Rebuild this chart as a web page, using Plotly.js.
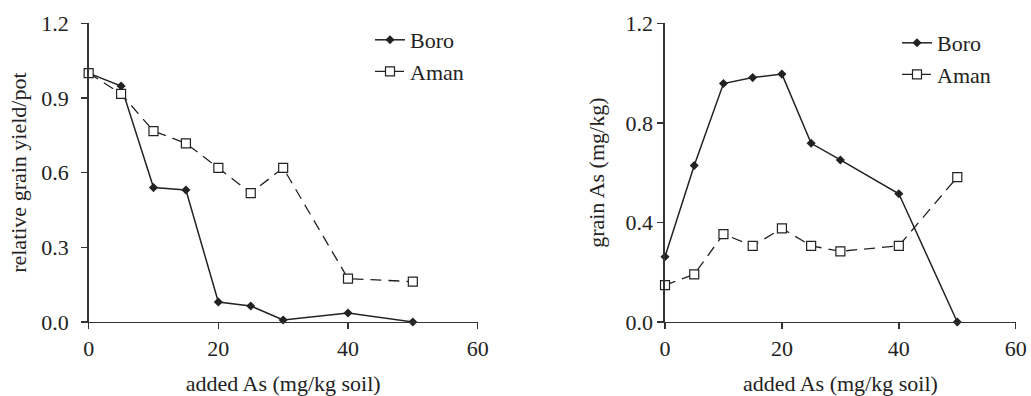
<!DOCTYPE html>
<html><head><meta charset="utf-8">
<script src="https://cdn.plot.ly/plotly-3.0.1.min.js"></script>
<style>html,body{margin:0;padding:0;background:#fff}#chart{width:1031px;height:396px}</style>
</head><body><div id="chart"></div>
<script>
const addedAs = [0, 5, 10, 15, 20, 25, 30, 40, 50];
const yieldBoro = [1.0, 0.948, 0.540, 0.530, 0.080, 0.064, 0.008, 0.036, 0.0];
const yieldAman = [1.0, 0.917, 0.767, 0.718, 0.619, 0.518, 0.619, 0.174, 0.162];
const grainBoro = [0.262, 0.629, 0.958, 0.982, 0.996, 0.718, 0.651, 0.515, 0.0];
const grainAman = [0.148, 0.191, 0.353, 0.306, 0.376, 0.306, 0.284, 0.306, 0.582];
const xTicks = [0, 20, 40, 60];
const yTicksLeft = [0.0, 0.3, 0.6, 0.9, 1.2];
const yTicksRight = [0.0, 0.4, 0.8, 1.2];

const ink = '#222';
const fam = "'Liberation Serif', 'Times New Roman', serif";
const tickFont = {family: fam, size: 22, color: '#222'};
const titleFont = {family: fam, size: 22, color: '#222'};

function boro(y, xa, ya, leg) {
  return {x: addedAs, y: y, xaxis: xa, yaxis: ya, legend: leg, name: 'Boro', mode: 'lines+markers',
    line: {color: ink, width: 1.5}, marker: {symbol: 'diamond', size: 7, color: ink}, cliponaxis: false};
}
function aman(y, xa, ya, leg) {
  return {x: addedAs, y: y, xaxis: xa, yaxis: ya, legend: leg, name: 'Aman', mode: 'lines+markers',
    line: {color: ink, width: 1.3, dash: '11px,7px'},
    marker: {symbol: 'square', size: 9, color: '#fff', line: {width: 1.2, color: ink}}, cliponaxis: false};
}

const data = [
  boro(yieldBoro, 'x', 'y', 'legend'),
  aman(yieldAman, 'x', 'y', 'legend'),
  boro(grainBoro, 'x2', 'y2', 'legend2'),
  aman(grainAman, 'x2', 'y2', 'legend2')
];

function xaxis(domain, anchor) {
  return {domain: domain, anchor: anchor, range: [0, 60], tickvals: xTicks, ticktext: xTicks.map(String),
    showgrid: false, zeroline: false, showline: true, linecolor: '#333', linewidth: 1.5,
    ticks: 'outside', ticklen: 6, tickwidth: 1.5, tickcolor: '#333', tickfont: tickFont, automargin: false,
    title: {text: 'added As (mg/kg soil)', font: titleFont, standoff: 16}};
}
function yaxis(anchor, vals, title, standoff, tstand) {
  return {domain: [0.187, 0.941], anchor: anchor, range: [0, 1.2], tickvals: vals, ticktext: vals.map(v => v.toFixed(1)),
    showgrid: false, zeroline: false, showline: true, linecolor: '#333', linewidth: 1.5,
    ticks: 'outside', ticklen: 6, tickwidth: 1.5, tickcolor: '#333', tickfont: tickFont, automargin: false,
    ticklabelstandoff: standoff,
    title: {text: title, font: titleFont, standoff: tstand}};
}

const layout = {
  width: 1031, height: 396,
  margin: {l: 0, r: 0, t: 0, b: 0},
  paper_bgcolor: '#fff', plot_bgcolor: '#fff',
  font: tickFont,
  xaxis: xaxis([0.086, 0.4633], 'y'),
  xaxis2: xaxis([0.645, 0.9852], 'y2'),
  yaxis: yaxis('x', yTicksLeft, 'relative grain yield/pot', 8, 8),
  yaxis2: yaxis('x2', yTicksRight, 'grain As (mg/kg)', 0, 15),
  legend: {x: 370/1031, y: 1 - 19/396, xanchor: 'left', yanchor: 'top', bgcolor: 'rgba(0,0,0,0)',
    font: {family: fam, size: 22, color: '#222'}, tracegroupgap: 0, itemwidth: 30},
  legend2: {x: 897/1031, y: 1 - 22/396, xanchor: 'left', yanchor: 'top', bgcolor: 'rgba(0,0,0,0)',
    font: {family: fam, size: 22, color: '#222'}, tracegroupgap: 0, itemwidth: 30},
  showlegend: true
};

Plotly.newPlot('chart', data, layout, {displayModeBar: false, staticPlot: true});
</script>
</body></html>
